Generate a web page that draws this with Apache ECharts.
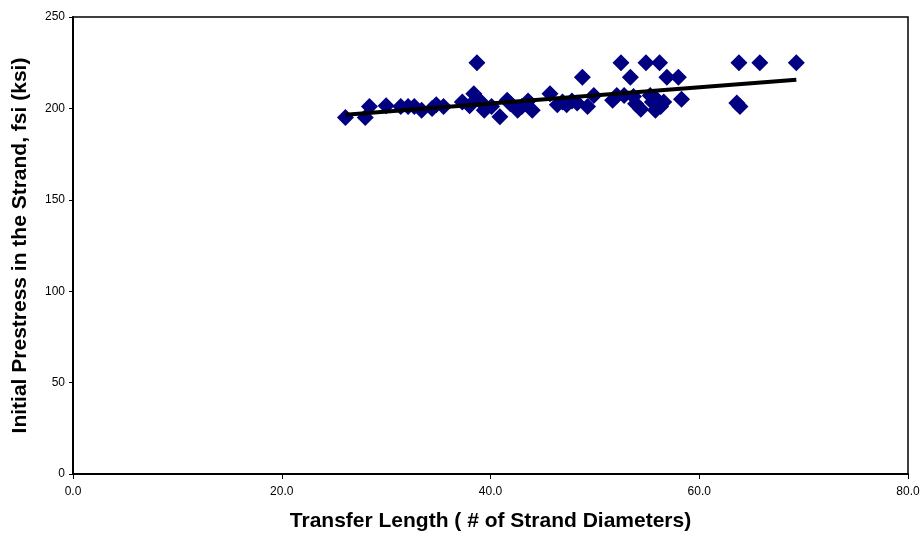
<!DOCTYPE html>
<html>
<head>
<meta charset="utf-8">
<script src="https://cdn.jsdelivr.net/npm/echarts@6/dist/echarts.min.js"></script>
<style>
  html, body { margin: 0; padding: 0; background: #fff; }
  #main { width: 921px; height: 536px; }
</style>
</head>
<body>
<div id="main"></div>
<script>
  // transfer length (# of strand diameters)
  var lengths = [26.1, 28.0, 28.4, 30.0, 31.4, 32.1, 32.7, 33.4, 34.4, 34.8, 35.5, 37.3, 38.0, 38.4, 38.7,
    39.0, 39.4, 40.1, 40.9, 41.6, 41.9, 42.6, 43.0, 43.6, 44.0, 45.7, 46.4, 46.9, 47.3, 47.8,
    48.3, 48.8, 49.3, 49.9, 51.7, 52.1, 52.5, 52.8, 53.4, 53.7, 53.9, 54.4, 54.9, 55.5, 55.8,
    56.2, 56.3, 56.6, 56.9, 58.0, 58.3, 63.6, 63.8, 63.9, 65.8, 69.3, 55.9, 55.3];
  // initial prestress fsi (ksi)
  var prestress = [195, 195, 201, 201.5, 201, 201, 201, 199, 200, 202, 201, 203.5, 201.5, 208, 225,
    204, 199, 201, 195.5, 204.5, 202.5, 199, 201, 204, 199, 208, 202, 203.5, 202, 204,
    203, 217, 201, 207, 204.5, 207, 225, 207, 217, 206.5, 202.5, 199.5, 225, 203.5, 199,
    225, 201, 203.5, 217, 217, 205, 203, 225, 201, 225, 225, 205, 207];
  // trend line end points
  var trendX = [26.1, 69.3];
  var trendY = [196.5, 215.7];

  var points = [];
  for (var i = 0; i < lengths.length; i++) {
    points.push([lengths[i], prestress[i]]);
  }
  var trend = [];
  for (var j = 0; j < trendX.length; j++) {
    trend.push([trendX[j], trendY[j]]);
  }

  var myChart = echarts.init(document.getElementById('main'));
  var option = {
    animation: false,
    grid: {
      left: 73, right: 13, top: 17, bottom: 62,
      outerBoundsMode: 'none',
      show: true, borderColor: '#000', borderWidth: 1.5, backgroundColor: '#fff'
    },
    xAxis: {
      type: 'value',
      min: 0, max: 80, interval: 20,
      name: 'Transfer Length ( # of Strand Diameters)',
      nameLocation: 'middle', nameGap: 37,
      nameTextStyle: { fontFamily: 'Liberation Sans', fontWeight: 'bold', fontSize: 21, color: '#000' },
      axisLine: { onZero: false, lineStyle: { color: '#000', width: 2 } },
      axisTick: { show: true, length: 5, lineStyle: { color: '#000' } },
      axisLabel: {
        margin: 12, fontFamily: 'Liberation Sans', fontSize: 12, color: '#000',
        formatter: function (v) { return v.toFixed(1); }
      },
      splitLine: { show: false }
    },
    yAxis: {
      type: 'value',
      min: 0, max: 250, interval: 50,
      name: 'Initial Prestress in the Strand, fsi (ksi)',
      nameLocation: 'middle', nameGap: 42,
      nameTextStyle: { fontFamily: 'Liberation Sans', fontWeight: 'bold', fontSize: 21, color: '#000' },
      axisLine: { show: true, lineStyle: { color: '#000', width: 2 } },
      axisTick: { show: true, length: 4, lineStyle: { color: '#000' } },
      axisLabel: { margin: 8, fontFamily: 'Liberation Sans', fontSize: 12, color: '#000' },
      splitLine: { show: false }
    },
    series: [
      {
        type: 'scatter',
        symbol: 'diamond',
        symbolSize: 17,
        itemStyle: { color: '#000080', opacity: 1 },
        data: points
      },
      {
        type: 'line',
        symbol: 'none',
        lineStyle: { color: '#000', width: 4 },
        data: trend,
        z: 3
      }
    ]
  };
  option && myChart.setOption(option);
</script>
</body>
</html>
